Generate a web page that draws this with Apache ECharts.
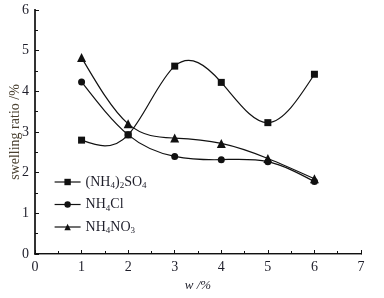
<!DOCTYPE html>
<html>
<head>
<meta charset="utf-8">
<script src="https://cdn.jsdelivr.net/npm/echarts@6/dist/echarts.min.js"></script>
<style>
  html, body { margin: 0; padding: 0; background: #fff; }
  #chart { width: 384px; height: 298px; }
</style>
</head>
<body>
<div id="chart"></div>
<script>
// data
const wValues = [1, 2, 3, 4, 5, 6];
const sulfate = [2.8, 2.93, 4.62, 4.22, 3.23, 4.42];
const chloride = [4.23, 2.93, 2.4, 2.32, 2.27, 1.78];
const nitrate = [4.83, 3.2, 2.85, 2.72, 2.35, 1.85];
const seriesNames = ["(NH4)2SO4", "NH4Cl", "NH4NO3"];
const seriesSymbols = ["rect", "circle", "triangle"];

const chart = echarts.init(document.getElementById("chart"));
const font = "'Liberation Serif', 'DejaVu Serif', serif";
const ink = "#1e1e2a";

// legend labels with subscripts
const legendRich = {
  n: { fontFamily: font, fontSize: 14, color: ink },
  s: { fontFamily: font, fontSize: 9, color: ink, padding: [8, 0, 0, 0] }
};
function legendText(name) {
  if (name === "(NH4)2SO4") return "{n|(NH}{s|4}{n|)}{s|2}{n|SO}{s|4}";
  if (name === "NH4Cl") return "{n|NH}{s|4}{n|Cl}";
  return "{n|NH}{s|4}{n|NO}{s|3}";
}

const datasets = [sulfate, chloride, nitrate];

// natural cubic spline slopes (like the original plotting program's spline)
function splineSlopes(xs, ys) {
  const n = xs.length;
  const h = [];
  for (let i = 0; i < n - 1; i++) h.push(xs[i + 1] - xs[i]);
  const a = new Array(n).fill(0), b = new Array(n).fill(1), c = new Array(n).fill(0), d = new Array(n).fill(0);
  for (let i = 1; i < n - 1; i++) {
    a[i] = h[i - 1];
    b[i] = 2 * (h[i - 1] + h[i]);
    c[i] = h[i];
    d[i] = 6 * ((ys[i + 1] - ys[i]) / h[i] - (ys[i] - ys[i - 1]) / h[i - 1]);
  }
  // thomas algorithm
  for (let i = 1; i < n; i++) {
    const m = a[i] / b[i - 1];
    b[i] -= m * c[i - 1];
    d[i] -= m * d[i - 1];
  }
  const M = new Array(n).fill(0);
  M[n - 1] = d[n - 1] / b[n - 1];
  for (let i = n - 2; i >= 0; i--) M[i] = (d[i] - c[i] * M[i + 1]) / b[i];
  const slopes = [];
  for (let i = 0; i < n - 1; i++) {
    slopes.push((ys[i + 1] - ys[i]) / h[i] - h[i] * (2 * M[i] + M[i + 1]) / 6);
  }
  slopes.push((ys[n - 1] - ys[n - 2]) / h[n - 2] + h[n - 2] * (M[n - 2] + 2 * M[n - 1]) / 6);
  return slopes;
}

function curveRenderer(ys) {
  return function (params, api) {
    if (params.dataIndex !== 0) return;
    const m = splineSlopes(wValues, ys);
    const p0 = api.coord([wValues[0], ys[0]]);
    let path = "M" + p0[0] + " " + p0[1];
    for (let i = 0; i < wValues.length - 1; i++) {
      const h = wValues[i + 1] - wValues[i];
      const c1 = api.coord([wValues[i] + h / 3, ys[i] + m[i] * h / 3]);
      const c2 = api.coord([wValues[i + 1] - h / 3, ys[i + 1] - m[i + 1] * h / 3]);
      const p = api.coord([wValues[i + 1], ys[i + 1]]);
      path += " C" + c1[0] + " " + c1[1] + " " + c2[0] + " " + c2[1] + " " + p[0] + " " + p[1];
    }
    return {
      type: "path",
      shape: { pathData: path },
      style: { fill: "none", stroke: "#111", lineWidth: 1.2 }
    };
  };
}

const markerSeries = seriesNames.map((name, i) => ({
  name: name,
  type: "line",
  symbol: seriesSymbols[i],
  symbolSize: i === 2 ? 9 : 7,
  z: 3,
  itemStyle: { color: "#111" },
  lineStyle: { color: "#111", width: 1.2, opacity: 0 },
  data: wValues.map((w, j) => [w, datasets[i][j]])
}));

const curveSeries = seriesNames.map((name, i) => ({
  name: "curve " + name,
  type: "custom",
  z: 2,
  silent: true,
  renderItem: curveRenderer(datasets[i]),
  data: [[wValues[0], datasets[i][0]]]
}));

const option = {
  animation: false,
  grid: { left: 35, right: 23, top: 10, bottom: 44, outerBoundsMode: "none", containLabel: false },
  legend: {
    orient: "vertical",
    left: 49,
    top: 170,
    itemWidth: 26,
    itemHeight: 8,
    itemGap: 7,
    formatter: legendText,
    textStyle: { rich: legendRich },
    lineStyle: { color: "#111", width: 1.2, opacity: 1 },
    data: seriesNames
  },
  xAxis: [
    {
      type: "value",
      min: 0,
      max: 7,
      interval: 1,
      name: "w /%",
      nameLocation: "middle",
      nameGap: 22,
      nameTextStyle: { fontFamily: font, fontSize: 13, fontStyle: "italic", color: ink },
      axisLine: { lineStyle: { color: "#111", width: 2 } },
      axisTick: { inside: true, length: 4, lineStyle: { color: "#111" } },
      minorTick: { show: true, splitNumber: 2, length: 3, lineStyle: { color: "#111" } },
      axisLabel: { fontFamily: font, fontSize: 14, color: ink, margin: 6 },
      splitLine: { show: false }
    },
    {
      type: "value",
      position: "top",
      min: 0,
      max: 7,
      axisLine: { show: true, lineStyle: { color: "#999", width: 1 } },
      axisTick: { show: false },
      axisLabel: { show: false },
      splitLine: { show: false }
    }
  ],
  yAxis: [
    {
      type: "value",
      min: 0,
      max: 6,
      interval: 1,
      name: "swelling ratio /%",
      nameLocation: "middle",
      nameGap: 13,
      nameMoveOverlap: false,
      nameTextStyle: { fontFamily: font, fontSize: 14, color: "#4a4030" },
      axisLine: { show: true, lineStyle: { color: "#111", width: 2 } },
      axisTick: { inside: true, length: 4, lineStyle: { color: "#111" } },
      minorTick: { show: true, splitNumber: 2, length: 3, lineStyle: { color: "#111" } },
      axisLabel: { fontFamily: font, fontSize: 14, color: ink, margin: 6 },
      splitLine: { show: false }
    },
    {
      type: "value",
      position: "right",
      min: 0,
      max: 6,
      axisLine: { show: true, lineStyle: { color: "#333", width: 2 } },
      axisTick: { show: false },
      axisLabel: { show: false },
      splitLine: { show: false }
    }
  ],
  series: markerSeries.concat(curveSeries)
};

chart.setOption(option);
</script>
</body>
</html>
